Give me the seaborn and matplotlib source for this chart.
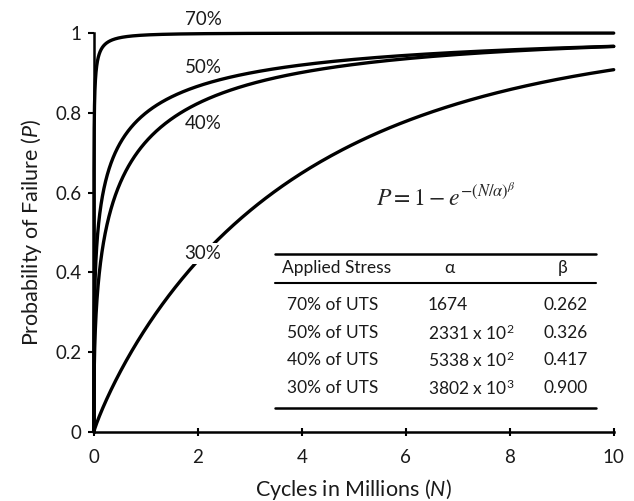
import numpy as np
import pandas as pd
import matplotlib
matplotlib.use("Agg")
import matplotlib.pyplot as plt
import seaborn as sns

# Weibull parameters
stress = ["70%", "50%", "40%", "30%"]
alpha = [1674, 2331e2, 5338e2, 3802e3]
beta = [0.262, 0.326, 0.417, 0.900]
alpha_text = ["1674", "2331 x 10$^2$", "5338 x 10$^2$", "3802 x 10$^3$"]
beta_text = ["0.262", "0.326", "0.417", "0.900"]

# curve label positions (x in millions, P)
label_x = [2.1, 2.1, 2.1, 2.1]
label_y = [1.035, 0.913, 0.774, 0.448]

sns.set_style("ticks")
plt.rcParams["font.family"] = ["Lato", "DejaVu Sans"]
plt.rcParams["mathtext.fontset"] = "custom"
plt.rcParams["mathtext.rm"] = "Lato"
plt.rcParams["mathtext.it"] = "Lato:italic"

n_mil = np.concatenate([[0], np.logspace(-9, 1, 2000)])
rows = []
for s, a, b in zip(stress, alpha, beta):
    p = 1 - np.exp(-((n_mil * 1e6) / a) ** b)
    rows.append(pd.DataFrame({"N": n_mil, "P": p, "stress": s}))
df = pd.concat(rows)

fig = plt.figure(figsize=(6.34, 5.01), dpi=100)
ax = fig.add_axes([0.148, 0.138, 0.82, 0.796])

for s in stress:
    sns.lineplot(data=df[df["stress"] == s], x="N", y="P", color="black",
                 linewidth=2.4, estimator=None, sort=False, ax=ax, clip_on=False)

ax.set_xlim(0, 10)
ax.set_ylim(0, 1)
ax.set_xticks([0, 2, 4, 6, 8, 10])
ax.set_yticks([0, 0.2, 0.4, 0.6, 0.8, 1])
ax.set_yticklabels(["0", "0.2", "0.4", "0.6", "0.8", "1"])
ax.tick_params(axis="both", labelsize=13.5, width=1.5, color="black", labelcolor="#1a1a1a")
ax.tick_params(axis="x", direction="inout", length=6, pad=9)
ax.tick_params(axis="y", direction="out", length=4, pad=5)
for sp in ["left", "bottom"]:
    ax.spines[sp].set_linewidth(1.8)
    ax.spines[sp].set_color("black")
sns.despine(ax=ax)

ax.set_xlabel("Cycles in Millions ($\\it{N}$)", fontsize=15.5, labelpad=8, color="#1a1a1a")
ax.set_ylabel("Probability of Failure ($\\it{P}$)", fontsize=15.5, labelpad=8, color="#1a1a1a")

for s, lx, ly in zip(stress, label_x, label_y):
    t = ax.text(lx, ly, s, fontsize=13.5, ha="center", va="center", color="#1a1a1a",
                clip_on=False, zorder=5)
    if s == "30%":
        # this label sits on its curve, with a white box behind it
        t.set_bbox(dict(facecolor="white", edgecolor="none", pad=1.5))

# formula
fig.text(0.703, 0.606, r"$P = 1 - e^{-(N/\alpha)^{\beta}}$", fontsize=17,
         ha="center", va="center", family="Liberation Serif",
         math_fontfamily="stix")

# parameter table
tx0, tx1 = 275 / 634, 596 / 634
def fy(py):
    return 1 - py / 501
for py, lw in [(254, 1.8), (283, 1.5), (408, 1.8)]:
    fig.add_artist(plt.Line2D([tx0, tx1], [fy(py), fy(py)], color="black", lw=lw))
fig.text(282 / 634, fy(268), "Applied Stress", fontsize=12.5, va="center", color="#1a1a1a")
fig.text(449 / 634, fy(268), "α", fontsize=12.5, va="center", ha="center", color="#1a1a1a")
fig.text(563 / 634, fy(268), "β", fontsize=12.5, va="center", ha="center", color="#1a1a1a")
row_y = [305, 333, 360, 388]
for s, at, bt, ry in zip(stress, alpha_text, beta_text, row_y):
    fig.text(287 / 634, fy(ry), s + " of UTS", fontsize=12.5, va="center", color="#1a1a1a")
    fig.text(428 / 634, fy(ry), at, fontsize=12.5, va="center", color="#1a1a1a")
    fig.text(543 / 634, fy(ry), bt, fontsize=12.5, va="center", color="#1a1a1a")

fig.savefig("out.png", dpi=100)
